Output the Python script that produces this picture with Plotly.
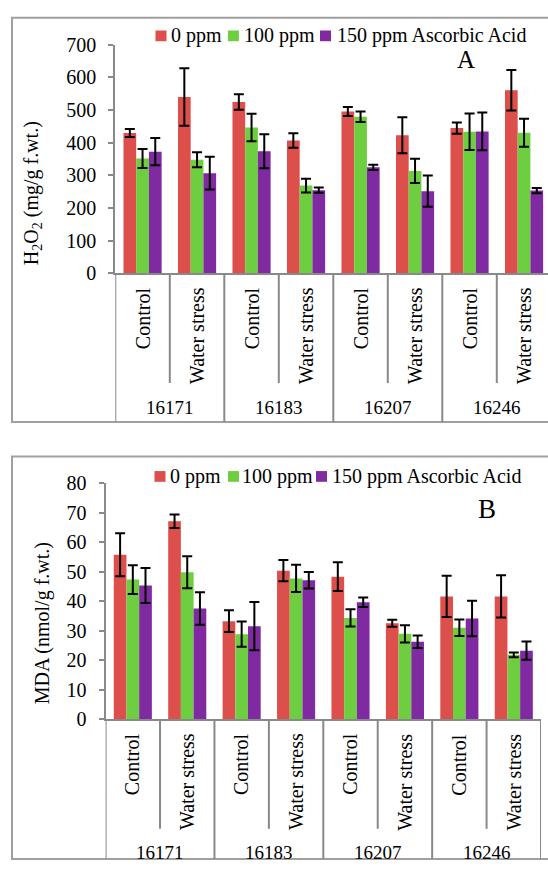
import plotly.graph_objects as go

W, H = 548, 871

genotypes = ["16171", "16183", "16207", "16246"]
treatments = ["Control", "Water stress"]
series_names = ["0 ppm", "100 ppm", "150 ppm Ascorbic Acid"]
colors = ["#DD4F4B", "#6DCE3F", "#7F2AA1"]

# Panel A: H2O2 (mg/g f.wt.) — order: 16171 C, 16171 WS, 16183 C, 16183 WS, 16207 C, 16207 WS, 16246 C, 16246 WS
h2o2_0 = [430, 540, 525, 407, 496, 423, 445, 561]
h2o2_100 = [352, 348, 447, 269, 480, 314, 434, 431]
h2o2_150 = [373, 307, 374, 255, 325, 252, 435, 254]
h2o2_0_err = [12, 88, 24, 22, 14, 55, 17, 62]
h2o2_100_err = [29, 23, 42, 21, 16, 37, 56, 43]
h2o2_150_err = [42, 50, 52, 8, 8, 48, 58, 8]

# Panel B: MDA (nmol/g f.wt.)
mda_0 = [55.8, 67.2, 33.3, 50.4, 48.4, 32.6, 41.7, 41.7]
mda_100 = [47.4, 49.9, 28.9, 47.8, 34.4, 29.0, 31.1, 21.9]
mda_150 = [45.4, 37.6, 31.6, 47.2, 39.7, 26.3, 34.2, 23.3]
mda_0_err = [7.3, 2.3, 3.7, 3.6, 4.9, 1.2, 7.0, 7.2]
mda_100_err = [4.9, 5.4, 4.3, 4.6, 2.9, 2.9, 2.8, 0.8]
mda_150_err = [5.9, 5.5, 8.2, 2.8, 1.6, 2.1, 6.0, 3.1]

cats = list(range(len(genotypes) * len(treatments)))
cat_labels = [t for g in genotypes for t in treatments]

FONT = "Liberation Serif, Times New Roman, serif"
AXC = "#898989"


def px_x(p):
    return p / W


def px_y(p):
    return 1 - p / H


fig = go.Figure()

panels = [
    dict(xa="x", ya="y", vals=[h2o2_0, h2o2_100, h2o2_150],
         errs=[h2o2_0_err, h2o2_100_err, h2o2_150_err]),
    dict(xa="x2", ya="y2", vals=[mda_0, mda_100, mda_150],
         errs=[mda_0_err, mda_100_err, mda_150_err]),
]
for p in panels:
    for name, col, v, e in zip(series_names, colors, p["vals"], p["errs"]):
        fig.add_trace(go.Bar(
            x=cats, y=v, name=name, xaxis=p["xa"], yaxis=p["ya"],
            marker=dict(color=col, line=dict(width=0)),
            error_y=dict(type="data", array=e, visible=True, color="black",
                         thickness=2, width=5),
            showlegend=False,
        ))

axis_common = dict(showline=True, linecolor=AXC, linewidth=2, zeroline=False,
                   showgrid=False, mirror=False)
yaxis_common = dict(ticks="outside", ticklen=5, tickcolor=AXC, tickwidth=2,
                    ticklabelstandoff=8, tickfont=dict(family=FONT, size=20, color="black"))

# panel A: plot area starts at x=115.3 px, each category 54.5 px wide, runs past right edge
a_left, a_catw = 115.3, 54.5
a_right_cat = -0.5 + (W - a_left) / a_catw
# panel B: plot area 105.6 .. 541 px
b_left, b_right = 105.6, 541.0

fig.update_layout(
    width=W, height=H, autosize=False,
    margin=dict(l=0, r=0, t=0, b=0),
    paper_bgcolor="white", plot_bgcolor="white",
    barmode="group", bargap=0.30, bargroupgap=0,
    font=dict(family=FONT, size=20, color="black"),
    xaxis=dict(domain=[px_x(a_left), 1.0], range=[-0.5, a_right_cat], anchor="y",
               showticklabels=False, ticks="", **axis_common),
    yaxis=dict(domain=[px_y(269.3), px_y(34.7)], range=[0, 700], dtick=100,
               anchor="x", **yaxis_common, **axis_common),
    xaxis2=dict(domain=[px_x(b_left), px_x(b_right)], range=[-0.5, 7.5], anchor="y2",
                showticklabels=False, ticks="", **axis_common),
    yaxis2=dict(domain=[px_y(726.7), px_y(484.7)], range=[0, 80], dtick=10,
                anchor="x2", **yaxis_common, **axis_common),
)

shapes = []
annotations = []

# Outer boxes
shapes.append(dict(type="rect", xref="paper", yref="paper",
                   x0=px_x(12), x1=px_x(600), y0=px_y(421.7), y1=px_y(7),
                   line=dict(color="#a0a0a0", width=2)))
shapes.append(dict(type="rect", xref="paper", yref="paper",
                   x0=px_x(12), x1=px_x(600), y0=px_y(870), y1=px_y(457),
                   line=dict(color="#a0a0a0", width=2)))

panel_geo = [
    dict(xref="x", axis_y=269.3, sub_bot=381.7, grp_bot=421.7, lab_top=281.7, grp_y=407,
         legend_y=25.5, leg_sq=[155.5, 227.9, 320], leg_tx=[170.2, 243, 335.5],
         letter="A", letter_xy=(466, 49.5), letter_size=25,
         ytitle="H<sub>2</sub>O<sub>2</sub> (mg/g f.wt.)", ytitle_xy=(32.4, 186.5)),
    dict(xref="x2", axis_y=726.7, sub_bot=839, grp_bot=870, lab_top=739, grp_y=863,
         legend_y=477.5, leg_sq=[154.5, 228, 316], leg_tx=[168.8, 240.5, 331],
         letter="B", letter_xy=(486.7, 511), letter_size=27,
         ytitle="MDA (nmol/g f.wt.)", ytitle_xy=(42.8, 628.3)),
]

for g in panel_geo:
    # category dividers
    for k in range(len(cats) + 1):
        xpos = k - 0.5
        bot = g["grp_bot"] if k % 2 == 0 else g["sub_bot"]
        shapes.append(dict(type="line", xref=g["xref"], yref="paper",
                           x0=xpos, x1=xpos, y0=px_y(g["axis_y"]), y1=px_y(bot),
                           line=dict(color=AXC, width=2)))
    # rotated category labels
    for c, lab in zip(cats, cat_labels):
        annotations.append(dict(xref=g["xref"], yref="paper", x=c, y=px_y(g["lab_top"]),
                                text=lab, textangle=-90, showarrow=False,
                                xanchor="center", yanchor="top",
                                font=dict(family=FONT, size=20, color="black")))
    # genotype labels
    for i, gen in enumerate(genotypes):
        annotations.append(dict(xref=g["xref"], yref="paper", x=2 * i + 0.5,
                                y=px_y(g["grp_y"]), text=gen, showarrow=False,
                                xanchor="center", yanchor="middle",
                                font=dict(family=FONT, size=19, color="black")))
    # legend
    for sx, tx, col, name in zip(g["leg_sq"], g["leg_tx"], colors, series_names):
        shapes.append(dict(type="rect", xref="paper", yref="paper",
                           x0=px_x(sx), x1=px_x(sx + 11),
                           y0=px_y(g["legend_y"] + 5.5), y1=px_y(g["legend_y"] - 5.5),
                           fillcolor=col, line=dict(width=0)))
        annotations.append(dict(xref="paper", yref="paper", x=px_x(tx - 1),
                                y=px_y(g["legend_y"]), text=name, showarrow=False,
                                xanchor="left", yanchor="middle",
                                font=dict(family=FONT, size=20, color="black")))
    # panel letter
    annotations.append(dict(xref="paper", yref="paper", x=px_x(g["letter_xy"][0]),
                            y=px_y(g["letter_xy"][1]), text=g["letter"], showarrow=False,
                            xanchor="center", yanchor="middle",
                            font=dict(family=FONT, size=g["letter_size"], color="black")))
    # y title
    annotations.append(dict(xref="paper", yref="paper", x=px_x(g["ytitle_xy"][0]),
                            y=px_y(g["ytitle_xy"][1]), text=g["ytitle"], showarrow=False,
                            textangle=-90, xanchor="center", yanchor="middle",
                            font=dict(family=FONT, size=20, color="black")))

fig.update_layout(shapes=shapes, annotations=annotations)

fig.write_html("out.html")
